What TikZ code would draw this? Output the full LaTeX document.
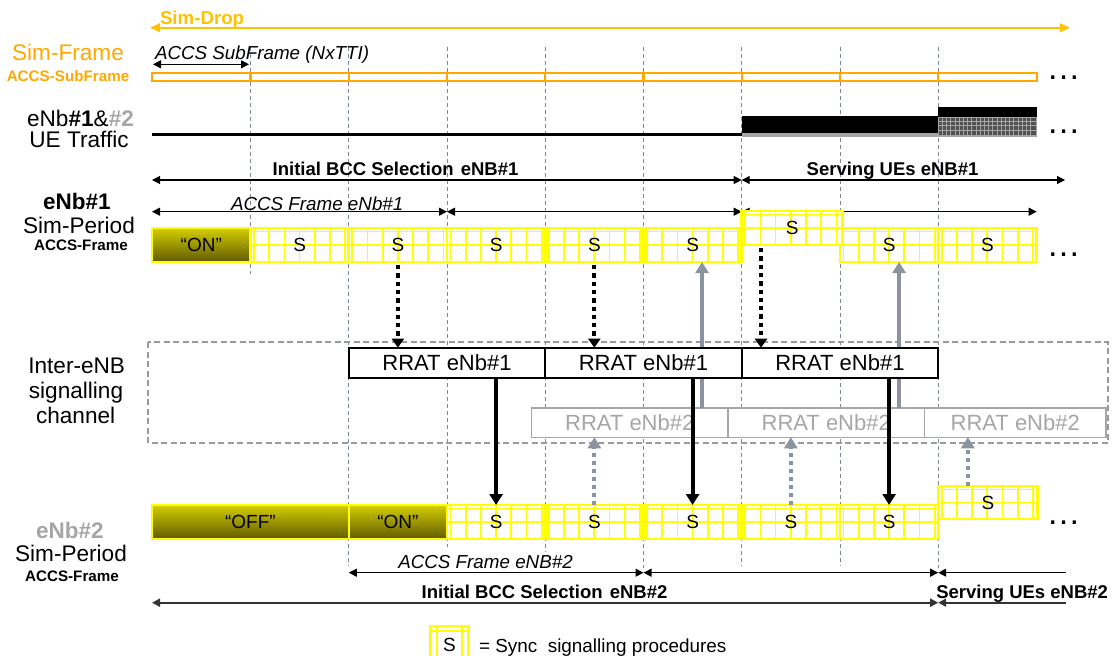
\documentclass[tikz,border=0pt]{standalone}
\usepackage{fontspec}
\setmainfont{Liberation Sans}
\usetikzlibrary{arrows.meta}
\definecolor{simorange}{RGB}{255,168,0}
\definecolor{simgold}{RGB}{255,194,0}
\definecolor{fyel}{RGB}{255,255,0}
\definecolor{vdgray}{RGB}{128,138,150}
\definecolor{boxgray}{RGB}{150,155,162}
\definecolor{agray}{RGB}{139,148,158}
\definecolor{lgray}{RGB}{166,166,166}
\definecolor{gtop}{RGB}{212,206,0}
\definecolor{gbot}{RGB}{96,90,0}
\definecolor{trgray}{RGB}{165,165,165}
\definecolor{trdark}{RGB}{80,80,80}
\newcommand{\fsz}[1]{\fontsize{#1}{#1}\selectfont}
\tikzset{
 tA/.tip={Triangle[length=8pt,width=8pt]},
 tG/.tip={Triangle[length=10pt,width=8.5pt]},
 tB/.tip={Triangle[length=11pt,width=13pt]},
 tD/.tip={Triangle[length=9pt,width=12pt]},
}
% frame with grid: name, x0, y0, x1, y1, text
\newcommand{\mkframe}[6]{%
  \fill[white] (#2,#3) rectangle (#4,#5);
  \foreach \k in {0,...,6} {\draw[fgrid] ({#2+3.5+15.2*\k},#3) -- ({#2+3.5+15.2*\k},#5);}
  \draw[fgrid] (#2,{#3+3.5}) -- (#4,{#3+3.5});
  \draw[fgrid] (#2,{(#3+#5)/2}) -- (#4,{(#3+#5)/2});
  \node[fbox, minimum width={(#4-#2)*1pt}, minimum height={(#5-#3)*1pt}] (#1) at ({(#2+#4)/2},{(#3+#5)/2}) {#6};
}
\newcommand{\mkgrad}[6]{%
  \node[gbox, minimum width={(#4-#2)*1pt}, minimum height={(#5-#3)*1pt}] (#1) at ({(#2+#4)/2},{(#3+#5)/2}) {#6};
}
\begin{document}
\begin{tikzpicture}[x=1pt,y=-1pt,
 every node/.style={inner sep=0pt,outer sep=0pt},
 lbl/.style={anchor=base,font=\fsz{22.6}},
 vdash/.style={draw=vdgray,line width=0.9pt,dash pattern=on 4pt off 3pt},
 thinarr/.style={draw=black,line width=1.1pt,arrows={tA-tA}},
 leftarr/.style={draw=black,line width=1.1pt,arrows={tA-}},
 fgrid/.style={draw=fyel,line width=1.7pt},
 fbox/.style={draw=fyel,line width=2.8pt,font=\fsz{19}},
 gbox/.style={draw=fyel,line width=2.4pt,top color=gtop,bottom color=gbot,font=\fsz{19}},
 rbox/.style={draw=black,line width=2pt,fill=white,font=\fsz{22}},
 qbox/.style={draw=lgray,line width=1.6pt,fill=white,text=lgray,font=\fsz{22}},
 dotarr/.style={draw=black,line width=4.2pt,dash pattern=on 4.3pt off 4pt,arrows={-tD}},
 blkarr/.style={draw=black,line width=4pt,arrows={-tB}},
 gryarr/.style={draw=agray,line width=4pt,arrows={-tB}},
 grydot/.style={draw=agray,line width=4pt,dash pattern=on 4pt off 4pt,arrows={-tB}},
 dots/.style={anchor=base,font=\fsz{34}},
 itl/.style={anchor=base west,font=\fsz{18.8}\itshape},
 bld/.style={anchor=base west,font=\fsz{18.5}\bfseries},
]
\useasboundingbox (0,0) rectangle (1112,656);
\fill[white] (0,0) rectangle (1112,656);

% vertical dashed grid lines
\foreach \xx/\yy in {250.5/274, 348.8/566, 447/547, 545.2/552, 643.5/568, 741.7/566, 840/566, 938.2/568}
  \draw[vdash] (\xx,47) -- (\xx,\yy);

% Sim-Drop
\coordinate (sdL) at (150,27.7);
\coordinate (sdR) at (1070,27.7);
\draw[draw=simgold,line width=2pt,arrows={tG-tG}] (sdL) -- (sdR);
\node[anchor=base west,font=\fsz{18.7}\bfseries,text=simgold] (tsimdrop) at (160,24.5) {Sim-Drop};

% Left labels
\node[lbl,text=simorange] (lsf) at (68,60) {Sim-Frame};
\node[lbl,text=simorange,font=\fsz{15.2}\bfseries] (lsub) at (68,81) {ACCS-SubFrame};
\node[lbl] (ltr1) at (80.5,126) {eNb\textbf{\#1}\&\textbf{\color{lgray}\#2}};
\node[lbl] (ltr2) at (79,147) {UE Traffic};
\node[lbl,font=\fsz{22.5}\bfseries] (le1a) at (77,209) {eNb\#1};
\node[lbl] (le1b) at (79,233) {Sim-Period};
\node[lbl,font=\fsz{15.2}\bfseries] (le1c) at (81,250.7) {ACCS-Frame};
\node[lbl] (lia) at (76.7,373) {Inter-eNB};
\node[lbl] (lib) at (76,398) {signalling};
\node[lbl] (lic) at (75.6,423) {channel};
\node[lbl,font=\fsz{22.5}\bfseries,text=lgray] (le2a) at (70,538) {eNb\#2};
\node[lbl] (le2b) at (71,561.5) {Sim-Period};
\node[lbl,font=\fsz{15.2}\bfseries] (le2c) at (72,581.7) {ACCS-Frame};

% Sub-frame bar
\draw[simorange,line width=2.2pt] (152,72.7) rectangle (1036.7,81);
\foreach \xx in {250.5,348.8,447,545.2,643.5,741.7,840,938.2}
  \draw[simorange,line width=2.2pt] (\xx,72.7) -- (\xx,81);
\coordinate (sfL) at (153,64.3);
\coordinate (sfR) at (249,64.3);
\draw[thinarr] (sfL) -- (sfR);
\node[itl] (tsub) at (155,59.5) {ACCS SubFrame (NxTTI)};
\node[dots] (dt1) at (1063.5,79) {…};

% UE traffic
\draw[black,line width=3pt] (152,134) -- (741.7,134);
\fill[trgray] (741.7,133) rectangle (1036.7,136.5);
\fill[black] (741.7,116) rectangle (938.2,133.3);
\fill[black] (938.2,107) rectangle (1036.7,117);
\fill[trdark] (938.2,117) rectangle (1036.7,134.5);
\foreach \xx in {942.3,946.5,...,1034} \draw[trgray,line width=0.6pt] (\xx,117) -- (\xx,134.5);
\foreach \yy in {121.3,125.6,129.9} \draw[trgray,line width=0.6pt] (938.2,\yy) -- (1036.7,\yy);
\draw[trgray,line width=1pt] (938.2,117) rectangle (1036.7,135.5);
\node[dots] (dt2) at (1063.5,133) {…};

% BCC eNB#1 arrows
\coordinate (b1L) at (152,180);
\coordinate (b1M) at (741.7,180);
\coordinate (b1R) at (1065,180);
\draw[thinarr] (b1L) -- (b1M);
\draw[thinarr] (b1M) -- (b1R);
\node[bld] (tbcc1) at (272.7,175) {Initial BCC Selection\hspace{2pt} eNB\#1};
\node[bld] (tsrv1) at (806.7,175) {Serving UEs eNB\#1};

% ACCS frame eNb#1 arrows
\coordinate (a1L) at (152,211.7);
\coordinate (a1M) at (447,211.7);
\coordinate (a1N) at (741.7,211.7);
\coordinate (a1R) at (1036.7,211.7);
\draw[thinarr] (a1L) -- (a1M);
\draw[thinarr] (a1M) -- (a1N);
\draw[thinarr] (a1N) -- (a1R);
\node[itl] (tacc1) at (231,210) {ACCS Frame eNb\#1};

% eNb#1 frames
\mkgrad{gA0}{152}{228}{250.5}{262}{“ON”}
\mkframe{fA1}{250.5}{228}{348.8}{262}{S}
\mkframe{fA2}{348.8}{228}{447}{262}{S}
\mkframe{fA3}{447}{228}{545.2}{262}{S}
\mkframe{fA4}{545.2}{228}{643.5}{262}{S}
\mkframe{fA5}{643.5}{228}{741.7}{262}{S}
\mkframe{fA7}{840}{228}{938.2}{262}{S}
\mkframe{fA8}{938.2}{228}{1036.7}{262}{S}
\mkframe{fA6}{741.7}{211}{842.7}{245}{S}
\node[dots] (dt3) at (1063.5,256) {…};

% Inter-eNB channel
\draw[boxgray,line width=2pt,dash pattern=on 6pt off 3.5pt] (148,342) rectangle (1107.5,443);
\node[qbox,minimum width=196.5pt,minimum height=29.6pt] (q1) at (629.75,422.5) {RRAT eNb\#2};
\node[qbox,minimum width=196.5pt,minimum height=29.6pt] (q2) at (826.25,422.5) {RRAT eNb\#2};
\node[qbox,minimum width=181.5pt,minimum height=29.6pt] (q3) at (1015.25,422.5) {RRAT eNb\#2};

% gray solid arrows eNb#2 RRAT -> eNb#1 frames
\coordinate (g1top) at ([xshift=9.4pt]fA5.south);
\coordinate (g2top) at ([xshift=10pt]fA7.south);
\draw[gryarr] (q1.north -| g1top) -- (g1top);
\draw[gryarr] (q2.north -| g2top) -- (g2top);

% RRAT eNb#1
\node[rbox,minimum width=196.4pt,minimum height=30.6pt] (r1) at (447,363) {RRAT eNb\#1};
\node[rbox,minimum width=196.5pt,minimum height=30.6pt] (r2) at (643.45,363) {RRAT eNb\#1};
\node[rbox,minimum width=196.5pt,minimum height=30.6pt] (r3) at (839.95,363) {RRAT eNb\#1};

% black dotted arrows eNb#1 frames -> RRAT eNb#1
\coordinate (d3s) at ([xshift=19.3pt]fA6.south west);
\draw[dotarr] ([yshift=-3pt]fA2.south) -- (fA2.south |- r1.north);
\draw[dotarr] ([yshift=-3pt]fA4.south) -- (fA4.south |- r2.north);
\draw[dotarr] ([yshift=-3pt]d3s) -- (d3s |- r3.north);

% eNb#2 frames
\mkgrad{gB0}{152}{505}{348.8}{539}{“OFF”}
\mkgrad{gB2}{348.8}{505}{447}{539}{“ON”}
\mkframe{fB3}{447}{505}{545.2}{539}{S}
\mkframe{fB4}{545.2}{505}{643.5}{539}{S}
\mkframe{fB5}{643.5}{505}{741.7}{539}{S}
\mkframe{fB6}{741.7}{505}{840}{539}{S}
\mkframe{fB7}{840}{505}{938.2}{539}{S}
\mkframe{fB8}{938.2}{486}{1037.5}{519}{S}
\node[dots] (dt4) at (1063.5,524) {…};

% black solid arrows RRAT eNb#1 -> eNb#2 frames
\draw[blkarr] (fB3.north |- r1.south) -- (fB3.north);
\draw[blkarr] (fB5.north |- r2.south) -- (fB5.north);
\draw[blkarr] (fB7.north |- r3.south) -- (fB7.north);

% gray dotted arrows eNb#2 frames -> RRAT eNb#2
\coordinate (h3s) at ([xshift=-20pt]fB8.north);
\draw[grydot] (fB4.north) -- (fB4.north |- q1.south);
\draw[grydot] (fB6.north) -- (fB6.north |- q2.south);
\draw[grydot] (h3s) -- (h3s |- q3.south);

% ACCS frame eNB#2 arrows
\coordinate (a2L) at (348.8,572.7);
\coordinate (a2M) at (643.5,572.7);
\coordinate (a2N) at (938.2,572.7);
\coordinate (a2R) at (1066,572.7);
\draw[thinarr] (a2L) -- (a2M);
\draw[thinarr] (a2M) -- (a2N);
\draw[leftarr] (a2N) -- (a2R);
\node[itl] (tacc2) at (398.3,568.5) {ACCS Frame eNB\#2};

% BCC eNB#2 arrows
\coordinate (b2L) at (152,602.7);
\coordinate (b2M) at (938.2,602.7);
\coordinate (b2R) at (1066,602.7);
\draw[thinarr,draw=black!80,line width=1.8pt] (b2L) -- (b2M);
\draw[leftarr,draw=black!80,line width=1.8pt] (b2M) -- (b2R);
\node[bld] (tbcc2) at (421.7,598.3) {Initial BCC Selection\hspace{2pt} eNB\#2};
\node[bld] (tsrv2) at (936.3,598) {Serving UEs eNB\#2};

% legend
\fill[white] (430.7,626) rectangle (468.3,662);
\draw[fgrid] (436.7,626) -- (436.7,662);
\draw[fgrid] (461.7,626) -- (461.7,662);
\draw[fgrid] (430.7,631) -- (468.3,631);
\draw[draw=fyel,line width=2.6pt] (430.7,626) rectangle (468.3,662);
\node[anchor=base,font=\fsz{19}] (legS) at (449.5,651.5) {S};
\node[anchor=base west,font=\fsz{18.9}] (legT) at (479,652) {= Sync\ \ signalling procedures};
\end{tikzpicture}
\end{document}
